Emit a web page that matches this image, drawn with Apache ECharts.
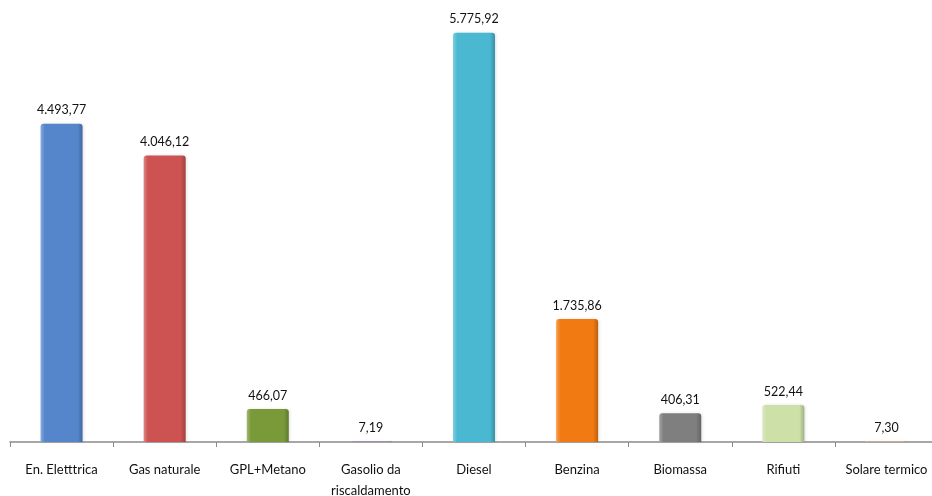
<!DOCTYPE html>
<html><head><meta charset="utf-8">
<script src="https://cdn.jsdelivr.net/npm/echarts@6/dist/echarts.min.js"></script>
<style>html,body{margin:0;padding:0;background:#fff}#c{width:932px;height:496px}</style>
</head><body><div id="c"></div>
<script>
var categories = ["En. Eletttrica", "Gas naturale", "GPL+Metano", "Gasolio da\nriscaldamento", "Diesel", "Benzina", "Biomassa", "Rifiuti", "Solare termico"];
var values = [4493.77, 4046.12, 466.07, 7.19, 5775.92, 1735.86, 406.31, 522.44, 7.30];
var colors = ["#5586CC", "#CD5252", "#7A9A3A", "#9E7AB8", "#4BB8D2", "#F27A12", "#7F7F7F", "#CCE0A8", "#F5B27A"];

function fmt(v) {
  var parts = v.toFixed(2).split(".");
  var intPart = parts[0].replace(/\B(?=(\d{3})+(?!\d))/g, ".");
  return intPart + "," + parts[1];
}
function shade(hex, amt) {
  var n = parseInt(hex.slice(1), 16);
  var r = (n >> 16) & 255, g = (n >> 8) & 255, b = n & 255;
  function f(c) { return Math.max(0, Math.min(255, Math.round(amt > 0 ? c + (255 - c) * amt : c * (1 + amt)))); }
  return "rgb(" + f(r) + "," + f(g) + "," + f(b) + ")";
}
var data = values.map(function (v, i) {
  var c = colors[i];
  return {
    value: v,
    itemStyle: {
      color: {
        type: "linear", x: 0, y: 0, x2: 1, y2: 0,
        colorStops: [
          { offset: 0, color: shade(c, 0.3) },
          { offset: 0.1, color: c },
          { offset: 0.88, color: c },
          { offset: 1, color: shade(c, -0.22) }
        ]
      },
      borderRadius: [3, 3, 0, 0],
      shadowColor: "rgba(0,0,0,0.12)",
      shadowBlur: 3,
      shadowOffsetX: 1
    }
  };
});

var chart = echarts.init(document.getElementById("c"));
chart.setOption({
  animation: false,
  textStyle: { fontFamily: "Lato, 'Open Sans', sans-serif" },
  grid: { left: 10, right: -6, top: 17, bottom: 54, containLabel: false, outerBoundsMode: "none" },
  xAxis: {
    type: "category",
    data: categories,
    axisLine: { lineStyle: { color: "#8a8a8a", width: 1.5 } },
    axisTick: { show: true, length: 5, lineStyle: { color: "#8a8a8a" } },
    axisLabel: { color: "#111", fontSize: 13, margin: 17, lineHeight: 21, interval: 0 }
  },
  yAxis: {
    type: "value", min: 0, max: 6000, show: false,
    splitLine: { show: false }
  },
  series: [{
    type: "bar",
    data: data,
    barWidth: 42,
    label: {
      show: true, position: "top", distance: 7,
      color: "#111", fontSize: 12.5,
      formatter: function (p) { return fmt(p.value); }
    }
  }]
});
</script></body></html>
